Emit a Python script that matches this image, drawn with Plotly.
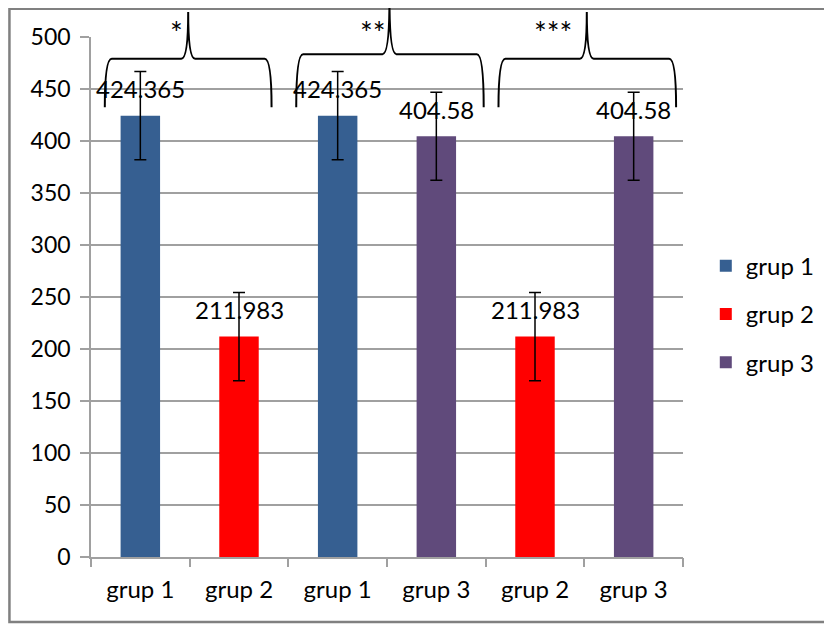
import plotly.graph_objects as go

# ---- data ----
positions = [0, 1, 2, 3, 4, 5]
tick_labels = ["grup 1", "grup 2", "grup 1", "grup 3", "grup 2", "grup 3"]
series_names = ["grup 1", "grup 2", "grup 3"]
series_x = [[0, 2], [1, 4], [3, 5]]
series_values = [[424.365, 424.365], [211.983, 211.983], [404.58, 404.58]]
series_errors = [[42.4, 42.4], [42.4, 42.4], [42.4, 42.4]]
series_colors = ["#365F91", "#FF0000", "#604A7B"]
y_ticks = [0, 50, 100, 150, 200, 250, 300, 350, 400, 450, 500]

# significance braces: (left x, right x, peak x, label)
brace_spans = [(-0.36, 1.33, 0.485, "*"), (1.58, 3.48, 2.525, "**"), (3.63, 5.43, 4.525, "***")]
brace_label_x = [0.364, 2.354, 4.18]
brace_h = [0.958, 0.967, 0.958]
brace_top = [1.048, 1.075, 1.048]

FONT = "Lato"
# page body has an 8px margin; figure is sized/positioned to compensate
W, H = 824, 617
ML, MR, MT, MB = 83, 144, 29, 68
PW, PH = W - ML - MR, H - MT - MB

fig = go.Figure()
for name, xs, vs, es, col in zip(series_names, series_x, series_values, series_errors, series_colors):
    fig.add_trace(go.Bar(
        x=xs, y=vs, name=name, width=0.4, marker_color=col, marker_line_width=0,
        legendgroup=name,
        error_y=dict(type="data", array=es, visible=True, color="black", thickness=1.5, width=6),
    ))

annotations = []
for xs, vs in zip(series_x, series_values):
    for x, v in zip(xs, vs):
        annotations.append(dict(x=x, y=v, xref="x", yref="y", text=f"{v:g}", showarrow=False,
                                yanchor="middle", yshift=27, font=dict(family=FONT, size=24, color="black")))

shapes = []
for (x0, x1, xp, lab), lx, yh, yt in zip(brace_spans, brace_label_x, brace_h, brace_top):
    yb = 0.865
    dx = 0.07
    path = (f"M{x0},{yb} Q{x0},{yh} {x0+dx},{yh} L{xp-dx},{yh} Q{xp},{yh} {xp},{yt} "
            f"Q{xp},{yh} {xp+dx},{yh} L{x1-dx},{yh} Q{x1},{yh} {x1},{yb}")
    shapes.append(dict(type="path", path=path, xref="x", yref="paper",
                       line=dict(color="black", width=2)))
    annotations.append(dict(x=lx, y=1.0096, xref="x", yref="paper", text=lab, showarrow=False,
                            yanchor="middle", font=dict(family=FONT, size=30, color="black")))

# outer border
shapes.append(dict(type="rect", xref="paper", yref="paper",
                   x0=(0.75 - ML) / PW, x1=(835 - ML) / PW,
                   y0=-(614 - (H - MB)) / PH, y1=((H - MB) - 0.75) / PH,
                   line=dict(color="#808080", width=2.5), layer="below"))

fig.update_layout(
    width=W, height=H,
    margin=dict(l=ML, r=MR, t=MT, b=MB),
    paper_bgcolor="white", plot_bgcolor="white",
    barmode="overlay",
    showlegend=True,
    legend=dict(x=1.0385, xanchor="left", y=0.467, yanchor="middle",
                font=dict(family=FONT, size=24, color="black"),
                tracegroupgap=14, traceorder="grouped", bgcolor="rgba(0,0,0,0)"),
    xaxis=dict(range=[-0.5, 5.5], tickmode="array", tickvals=positions, ticktext=tick_labels,
               ticks="", showgrid=False, showline=True, linecolor="#A0A0A0", linewidth=1.5,
               tickfont=dict(family=FONT, size=24, color="black"), ticklabelstandoff=10, zeroline=False),
    xaxis2=dict(overlaying="x", matches="x", side="bottom", range=[-0.5, 5.5], tickmode="array",
                tickvals=[p - 0.5 for p in positions] + [positions[-1] + 0.5],
                ticks="outside", ticklen=9, tickcolor="#A0A0A0", tickwidth=1.5,
                showticklabels=False, showgrid=False, showline=False, zeroline=False),
    yaxis=dict(range=[0, 500], tickmode="array", tickvals=y_ticks, ticks="outside", ticklen=9,
               tickcolor="#A0A0A0", tickwidth=1.5, showgrid=True, gridcolor="#A0A0A0", gridwidth=1.5,
               showline=True, linecolor="#A0A0A0", linewidth=1.5, zeroline=False,
               tickfont=dict(family=FONT, size=23, color="black"), ticklabelstandoff=5),
    annotations=annotations,
    shapes=shapes,
)
# invisible trace to activate xaxis2 (boundary tick marks)
fig.add_trace(go.Scatter(x=[0], y=[0], xaxis="x2", mode="markers", marker=dict(opacity=0),
                         showlegend=False, hoverinfo="skip"))

fig.write_html("out.html")
